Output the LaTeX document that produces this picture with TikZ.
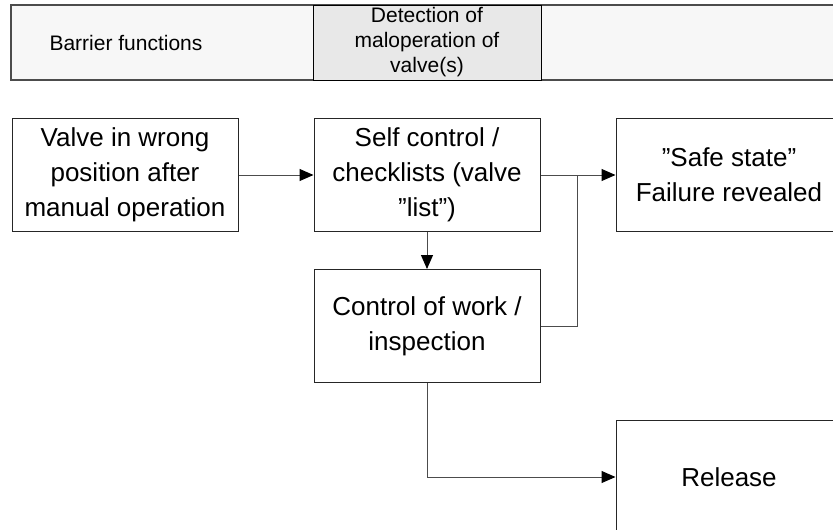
\documentclass[tikz,border=0pt]{standalone}
\usepackage{fontspec}
\setmainfont{Liberation Sans}
\usetikzlibrary{arrows.meta}
\begin{document}
\begin{tikzpicture}[x=1pt,y=-1pt,
  stage/.style={draw=black!85, line width=1pt, fill=white, minimum width=226pt,
    minimum height=113pt, align=center, inner sep=0pt,
    font=\fontsize{26}{35}\selectfont},
  header/.style={align=center, inner sep=0pt, font=\fontsize{21}{25}\selectfont},
  link/.style={draw=black!70, line width=1pt},
  flow/.style={link, -{Triangle[length=14pt,width=12pt,black]}}]
\useasboundingbox (0,0) rectangle (833,530);
\clip (0,0) rectangle (833,530);
\fill[white] (0,0) rectangle (833,530);

% header strip
\draw[draw=black!70, line width=1.2pt, fill=black!3] (850,5) -- (11,5) -- (11,80) -- (850,80);
\draw[draw=black, line width=1pt, fill=black!9] (313,5) rectangle (541,80);
\node[header] (hdrA) at (126,43) {Barrier functions};
\node[header] (hdrB) at (427,42) {Detection of\\maloperation of\\valve(s)};

% stages
\node[stage] (valve) at (125,175) {Valve in wrong\\position after\\manual operation};
\node[stage] (self) at (427,175) {Self control /\\checklists (valve\\”list”)};
\node[stage] (safe) at (729,175) {”Safe state”\\Failure revealed};
\node[stage] (work) at (427,326) {Control of work /\\inspection};
\node[stage] (rel) at (729,477) {Release};

\coordinate (join) at (577,175);

% connectors
\draw[flow] (valve.east) -- (self.west);
\draw[flow] (self.east) -- (safe.west);
\draw[flow] (self.south) -- (work.north);
\draw[link] (work.east) -| (join);
\draw[flow] (work.south) |- (rel.west);
\end{tikzpicture}
\end{document}
